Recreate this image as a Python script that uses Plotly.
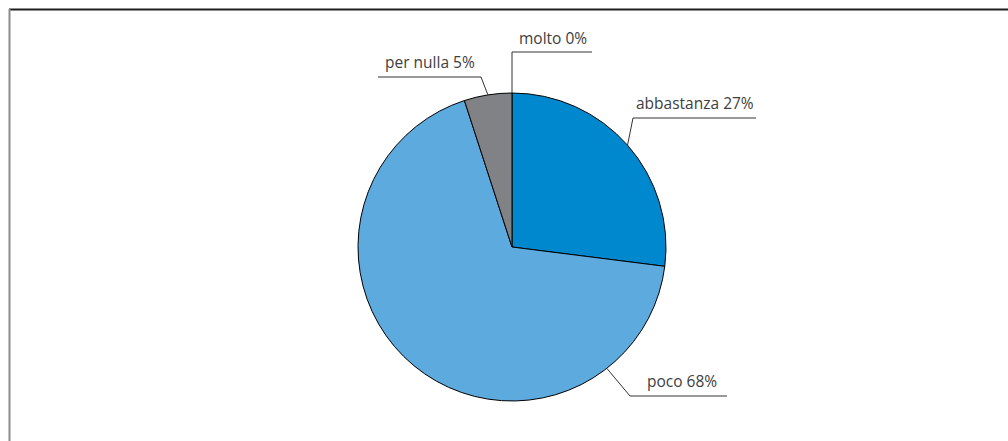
import math
import plotly.graph_objects as go

# Survey answers and their shares (%)
labels = ["molto", "abbastanza", "poco", "per nulla"]
values = [0, 27, 68, 5]
colors = ["#0088CE", "#0088CE", "#5DAADF", "#808285"]

W, H = 1008, 441
CX, CY, R = 512, 247, 154  # pie centre and radius in pixels

# Callout layout per label: anchor angle override (deg clockwise from 12 o'clock),
# elbow point, end of the underline, text centre (all in pixels)
callouts = {
    "molto":      dict(angle=None, elbow=(512, 52), end=(592, 52), text=(553, 38)),
    "abbastanza": dict(angle=None, elbow=(633, 118), end=(756, 118), text=(695, 103)),
    "poco":       dict(angle=142, elbow=(630, 396), end=(727, 396), text=(682, 381)),
    "per nulla":  dict(angle=None, elbow=(481, 77), end=(378, 77), text=(430, 62)),
}


def px(x):
    return x / W


def py(y):
    return 1 - y / H


fig = go.Figure(
    go.Pie(
        labels=labels,
        values=values,
        sort=False,
        direction="clockwise",
        rotation=0,
        textinfo="none",
        hoverinfo="label+percent",
        marker=dict(colors=colors, line=dict(color="#000000", width=1)),
        domain=dict(x=[px(CX - R), px(CX + R)], y=[py(CY + R), py(CY - R)]),
        showlegend=False,
    )
)

shapes = []
annotations = []
total = sum(values)
cum = 0
for lab, val in zip(labels, values):
    mid = (cum + val / 2) / total * 360
    cum += val
    c = callouts[lab]
    ang = c["angle"] if c["angle"] is not None else mid
    a = math.radians(ang)
    ax, ay = CX + R * math.sin(a), CY - R * math.cos(a)
    ex, ey = c["elbow"]
    fx, fy = c["end"]
    path = f"M {px(ax)},{py(ay)} L {px(ex)},{py(ey)} L {px(fx)},{py(fy)}"
    shapes.append(dict(type="path", xref="paper", yref="paper", path=path,
                       line=dict(color="#333333", width=1)))
    tx, ty = c["text"]
    annotations.append(dict(
        x=px(tx), y=py(ty), xref="paper", yref="paper",
        text=f"{lab} {round(val / total * 100)}%",
        showarrow=False, xanchor="center", yanchor="middle",
        font=dict(family="Open Sans", size=15.5, color="#404040"),
    ))

# Frame: dark top edge, grey left edge
shapes.append(dict(type="line", xref="paper", yref="paper",
                   x0=px(9), y0=py(9.5), x1=1, y1=py(9.5),
                   line=dict(color="#1e1e1e", width=2)))
shapes.append(dict(type="line", xref="paper", yref="paper",
                   x0=px(9.5), y0=py(9), x1=px(9.5), y1=0,
                   line=dict(color="#8c8c8c", width=2)))

fig.update_layout(
    width=W, height=H,
    margin=dict(l=0, r=0, t=0, b=0),
    paper_bgcolor="#ffffff",
    plot_bgcolor="#ffffff",
    shapes=shapes,
    annotations=annotations,
)

fig.write_html("out.html")
